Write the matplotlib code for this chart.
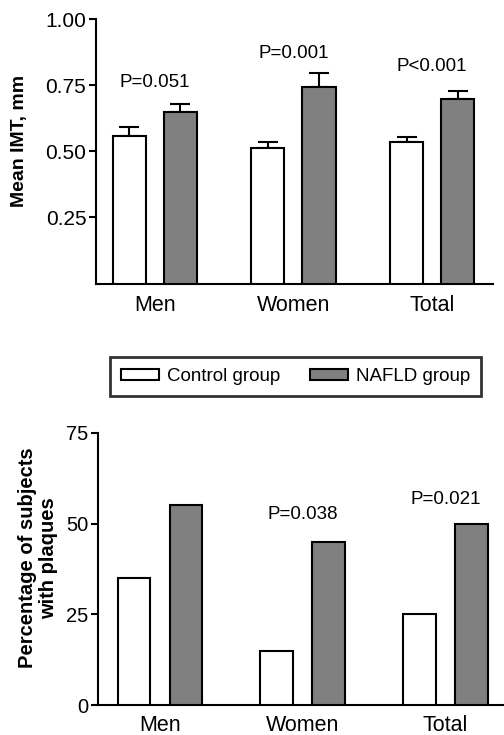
import matplotlib
matplotlib.use("Agg")
import matplotlib.pyplot as plt
import numpy as np
from matplotlib.patches import Patch

plt.rcParams['font.family'] = ['Liberation Sans', 'DejaVu Sans']

categories = ["Men", "Women", "Total"]
series = ["Control group", "NAFLD group"]
imt_control = [0.56, 0.514, 0.537]
imt_control_err = [0.034, 0.021, 0.019]
imt_nafld = [0.651, 0.742, 0.698]
imt_nafld_err = [0.028, 0.055, 0.030]
imt_p = ["P=0.051", "P=0.001", "P<0.001"]
imt_p_y = [0.76, 0.87, 0.82]
plaque_control = [35, 15, 25]
plaque_nafld = [55, 45, 50]
plaque_p = ["", "P=0.038", "P=0.021"]
plaque_p_y = [0, 52.5, 56.5]

GRAY = "#808080"
W = 504; H = 735
fig = plt.figure(figsize=(W/100, H/100), dpi=100)

def style(ax, ysize):
    for s in ["top", "right"]:
        ax.spines[s].set_visible(False)
    for s in ["left", "bottom"]:
        ax.spines[s].set_linewidth(1.5)
    ax.tick_params(axis='y', direction='out', length=5, width=1.5, labelsize=ysize, pad=2)
    ax.tick_params(axis='x', length=0, labelsize=15.5)

x = np.arange(len(categories))
off = 0.184
bw = 0.238

# Top chart
ax1 = fig.add_axes([96/W, (H-283.5)/H, (493-96)/W, (283.5-19.3)/H])
ax1.bar(x - off, imt_control, bw, color="white", edgecolor="black", linewidth=1.5, zorder=3)
ax1.bar(x + off, imt_nafld, bw, color=GRAY, edgecolor="black", linewidth=1.5, zorder=3)
ax1.errorbar(x - off, imt_control, yerr=[np.zeros(3), imt_control_err], fmt='none',
             ecolor='black', elinewidth=1.5, capsize=7, capthick=1.5, zorder=2)
ax1.errorbar(x + off, imt_nafld, yerr=[np.zeros(3), imt_nafld_err], fmt='none',
             ecolor='black', elinewidth=1.5, capsize=7, capthick=1.5, zorder=2)
for i, (t, yy) in enumerate(zip(imt_p, imt_p_y)):
    ax1.text(x[i], yy, t, ha='center', va='center', fontsize=13.5)
ax1.set_xlim(-0.423, 2.438)
ax1.set_ylim(0, 1.0)
ax1.set_yticks([0.25, 0.5, 0.75, 1.0])
ax1.set_yticklabels(["0.25", "0.50", "0.75", "1.00"])
ax1.set_xticks(x)
ax1.set_xticklabels(categories)
style(ax1, 15)
ax1.tick_params(axis='x', pad=8)
ax1.set_ylabel("Mean IMT, mm", fontsize=14, fontweight='bold')
ax1.yaxis.set_label_coords(-0.171, 0.539)

# Bottom chart
ax2 = fig.add_axes([98.3/W, (H-705.3)/H, (W-98.3)/W, (705.3-432.7)/H])
ax2.bar(x - 0.182, plaque_control, 0.228, color="white", edgecolor="black", linewidth=1.5, zorder=3)
ax2.bar(x + 0.182, plaque_nafld, 0.228, color=GRAY, edgecolor="black", linewidth=1.5, zorder=3)
for i, (t, yy) in enumerate(zip(plaque_p, plaque_p_y)):
    if t:
        ax2.text(x[i], yy, t, ha='center', va='center', fontsize=13.5)
ax2.set_xlim(-0.431, 2.41)
ax2.set_ylim(0, 75)
ax2.set_yticks([0, 25, 50, 75])
ax2.set_xticks(x)
ax2.set_xticklabels(categories)
style(ax2, 14.5)
ax2.tick_params(axis='x', pad=7)
ax2.set_ylabel("Percentage of subjects\nwith plaques", fontsize=14.5, fontweight='bold', linespacing=1.15)
ax2.yaxis.set_label_coords(-0.099, 0.54)

handles = [Patch(facecolor="white", edgecolor="black", linewidth=1.5, label=series[0]),
           Patch(facecolor=GRAY, edgecolor="black", linewidth=1.5, label=series[1])]
leg = fig.legend(handles=handles, loc='center', bbox_to_anchor=((111+480)/2/W, 1-(357.7+395.7)/2/H),
                 ncol=2, frameon=True, fancybox=False, fontsize=13.5, handlelength=2.05,
                 handleheight=0.55, columnspacing=1.6, handletextpad=0.4, borderpad=0.6)
leg.get_frame().set_edgecolor("black")
leg.get_frame().set_linewidth(2)

fig.savefig("out.png", dpi=100)
